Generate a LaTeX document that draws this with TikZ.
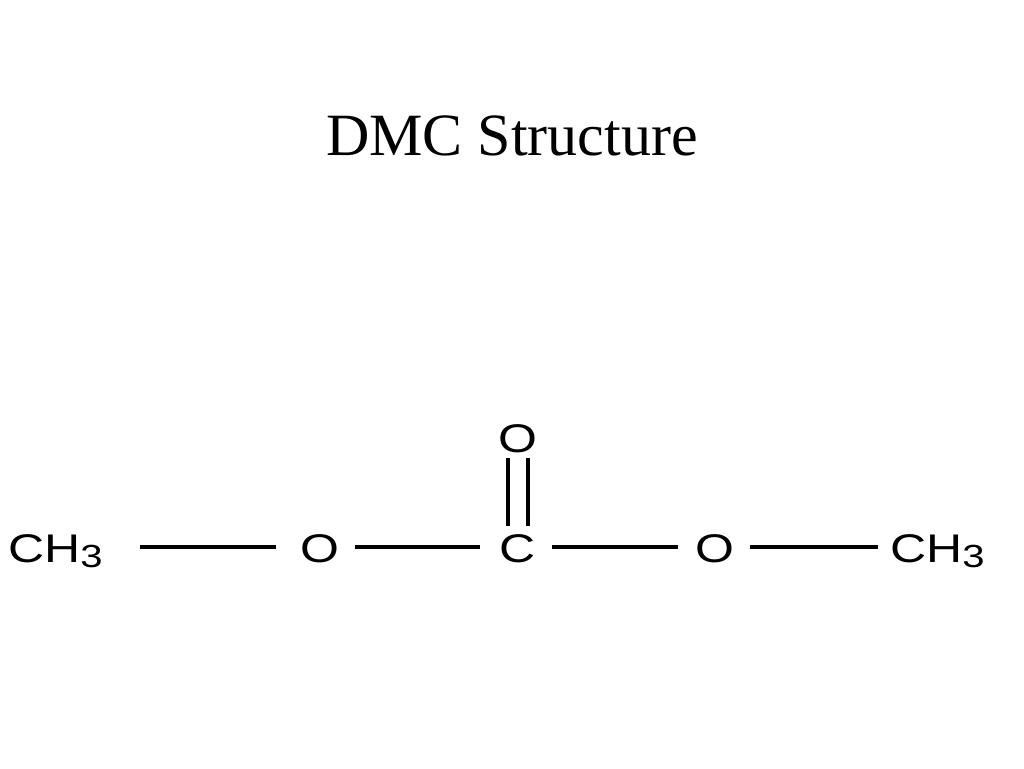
\documentclass[tikz,border=0pt]{standalone}
\usepackage{fontspec}
\setmainfont{Liberation Serif}
\newfontfamily\chemf{Liberation Sans}
\begin{document}
\begin{tikzpicture}[x=1pt,y=-1pt,
  atom/.style={font=\chemf\fontsize{40}{40}\selectfont, xscale=1.25, inner sep=0pt},
  bond/.style={line width=3.5pt}]
\useasboundingbox (0,0) rectangle (1024,768);
\node[font=\fontsize{60}{60}\selectfont] (title) at (512,136) {DMC Structure};
\node[atom,anchor=base west] (m1) at (8,562) {CH\raisebox{-0.25ex}{\fontsize{32}{32}\selectfont 3}};
\node[atom,anchor=base] (o1) at (320,562) {O};
\node[atom,anchor=base] (c) at (518,562) {C};
\node[atom,anchor=base] (o2) at (715,562) {O};
\node[atom,anchor=base] (o3) at (518,452) {O};
\node[atom,anchor=base west] (m2) at (890,562) {CH\raisebox{-0.25ex}{\fontsize{32}{32}\selectfont 3}};
\coordinate (b1a) at (140,547); \coordinate (b1b) at (276,547);
\coordinate (b2a) at (355,547); \coordinate (b2b) at (480,547);
\coordinate (b3a) at (552,547); \coordinate (b3b) at (678,547);
\coordinate (b4a) at (750,547); \coordinate (b4b) at (878,547);
\draw[bond] (b1a) -- (b1b);
\draw[bond] (b2a) -- (b2b);
\draw[bond] (b3a) -- (b3b);
\draw[bond] (b4a) -- (b4b);
\coordinate (d1a) at (508,458); \coordinate (d1b) at (508,526);
\coordinate (d2a) at (528,458); \coordinate (d2b) at (528,526);
\draw[bond] (d1a) -- (d1b);
\draw[bond] (d2a) -- (d2b);
\end{tikzpicture}
\end{document}
